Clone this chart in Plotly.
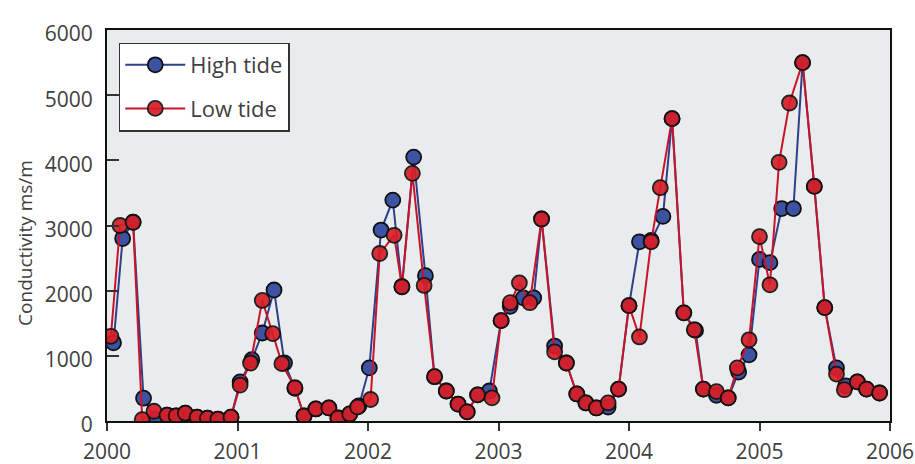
import plotly.graph_objects as go

# ---- data (decimal year, conductivity ms/m) ----
high_x = [2000.05, 2000.12, 2000.20, 2000.28, 2000.37, 2000.46, 2000.53, 2000.60, 2000.69, 2000.77,
          2000.85, 2000.95, 2001.02, 2001.11, 2001.19, 2001.28, 2001.36, 2001.44, 2001.51, 2001.60,
          2001.70, 2001.77, 2001.86, 2001.93, 2002.01, 2002.10, 2002.19, 2002.26, 2002.35, 2002.44,
          2002.51, 2002.60, 2002.69, 2002.76, 2002.84, 2002.93, 2003.02, 2003.09, 2003.19, 2003.27,
          2003.33, 2003.43, 2003.52, 2003.60, 2003.67, 2003.75, 2003.84, 2003.92, 2004.00, 2004.08,
          2004.17, 2004.26, 2004.33, 2004.42, 2004.51, 2004.57, 2004.67, 2004.76, 2004.84, 2004.92,
          2005.00, 2005.08, 2005.17, 2005.26, 2005.33, 2005.42, 2005.50, 2005.59, 2005.66, 2005.75,
          2005.82, 2005.92]
high_y = [1200, 2800, 3050, 350, 20, 90, 80, 120, 60, 45,
          30, 60, 600, 940, 1350, 2010, 890, 500, 80, 185,
          200, 46, 108, 230, 815, 2930, 3390, 2060, 4050, 2230,
          680, 460, 260, 140, 400, 460, 1540, 1760, 1890, 1890,
          3100, 1150, 890, 415, 277, 200, 215, 490, 1770, 2750,
          2770, 3140, 4640, 1660, 1390, 490, 395, 354, 750, 1015,
          2480, 2430, 3260, 3260, 5500, 3600, 1740, 815, 540, 600,
          490, 430]

low_x = [2000.03, 2000.10, 2000.20, 2000.27, 2000.36, 2000.46, 2000.53, 2000.60, 2000.69, 2000.77,
         2000.85, 2000.95, 2001.02, 2001.10, 2001.19, 2001.27, 2001.34, 2001.44, 2001.51, 2001.60,
         2001.70, 2001.77, 2001.86, 2001.92, 2002.02, 2002.09, 2002.20, 2002.26, 2002.34, 2002.43,
         2002.51, 2002.60, 2002.69, 2002.76, 2002.84, 2002.95, 2003.02, 2003.09, 2003.16, 2003.24,
         2003.33, 2003.43, 2003.52, 2003.60, 2003.67, 2003.75, 2003.84, 2003.92, 2004.00, 2004.08,
         2004.17, 2004.24, 2004.33, 2004.42, 2004.50, 2004.57, 2004.67, 2004.76, 2004.83, 2004.92,
         2005.00, 2005.08, 2005.15, 2005.23, 2005.33, 2005.42, 2005.50, 2005.59, 2005.65, 2005.75,
         2005.82, 2005.92]
low_y = [1300, 3000, 3050, 20, 150, 90, 80, 120, 60, 45,
         30, 60, 550, 890, 1850, 1340, 880, 510, 77, 185,
         200, 46, 108, 215, 330, 2570, 2850, 2060, 3800, 2080,
         680, 460, 260, 140, 400, 354, 1540, 1815, 2120, 1815,
         3100, 1060, 890, 415, 277, 200, 277, 490, 1770, 1290,
         2750, 3580, 4640, 1660, 1400, 490, 450, 354, 815, 1246,
         2830, 2090, 3970, 4880, 5500, 3600, 1740, 720, 480, 600,
         490, 430]

series_names = ["High tide", "Low tide"]
x_ticks = [2000, 2001, 2002, 2003, 2004, 2005, 2006]
y_ticks = [0, 1000, 2000, 3000, 4000, 5000, 6000]
y_title = "Conductivity ms/m"

FONT = "Open Sans"
TXT = "#404040"

fig = go.Figure()
fig.add_trace(go.Scatter(
    x=high_x, y=high_y, mode="lines+markers", name=series_names[0],
    legendgroup="h",
    line=dict(color="#2e3f8c", width=2),
    marker=dict(size=15, color="#3c52a3", line=dict(color="#111111", width=1.8)),
))
fig.add_trace(go.Scatter(
    x=low_x, y=low_y, mode="lines+markers", name=series_names[1],
    legendgroup="l",
    line=dict(color="#c8142a", width=2),
    marker=dict(size=15, color="#d61e28", opacity=0.92, line=dict(color="#111111", width=1.8)),
))

fig.update_layout(
    width=915, height=464,
    margin=dict(l=107, r=25, t=30, b=43, autoexpand=False),
    paper_bgcolor="white",
    plot_bgcolor="#e9ecec",
    font=dict(family=FONT, color=TXT, size=20),
    showlegend=True,
    legend=dict(
        x=0.015, y=0.968, xanchor="left", yanchor="top",
        bgcolor="white", bordercolor="#333333", borderwidth=1.5,
        font=dict(family=FONT, size=22, color=TXT),
        itemwidth=60, tracegroupgap=12, traceorder="grouped",
    ),
    annotations=[dict(
        text=y_title, textangle=-90, xref="paper", yref="paper",
        x=-0.105, y=0.455, xanchor="center", yanchor="middle",
        showarrow=False, font=dict(family=FONT, size=19, color=TXT),
    )],
)
fig.update_xaxes(
    range=[2000, 2006], tickvals=x_ticks, ticktext=[str(v) for v in x_ticks],
    ticks="outside", ticklen=8, tickcolor="#333333", tickwidth=1.5,
    ticklabelstandoff=3, automargin=False,
    showline=True, linecolor="#111111", linewidth=2, mirror=True,
    showgrid=False, zeroline=False,
    tickfont=dict(size=21, color=TXT),
)
fig.update_yaxes(
    range=[0, 6000], tickvals=y_ticks, ticktext=[str(v) for v in y_ticks],
    ticks="inside", ticklen=12, tickcolor="#333333", tickwidth=1.5,
    ticklabelstandoff=8, ticklabelshift=4, automargin=False,
    showline=True, linecolor="#111111", linewidth=2, mirror=True,
    showgrid=False, zeroline=False,
    tickfont=dict(size=21, color=TXT),
)

fig.write_html("out.html")
